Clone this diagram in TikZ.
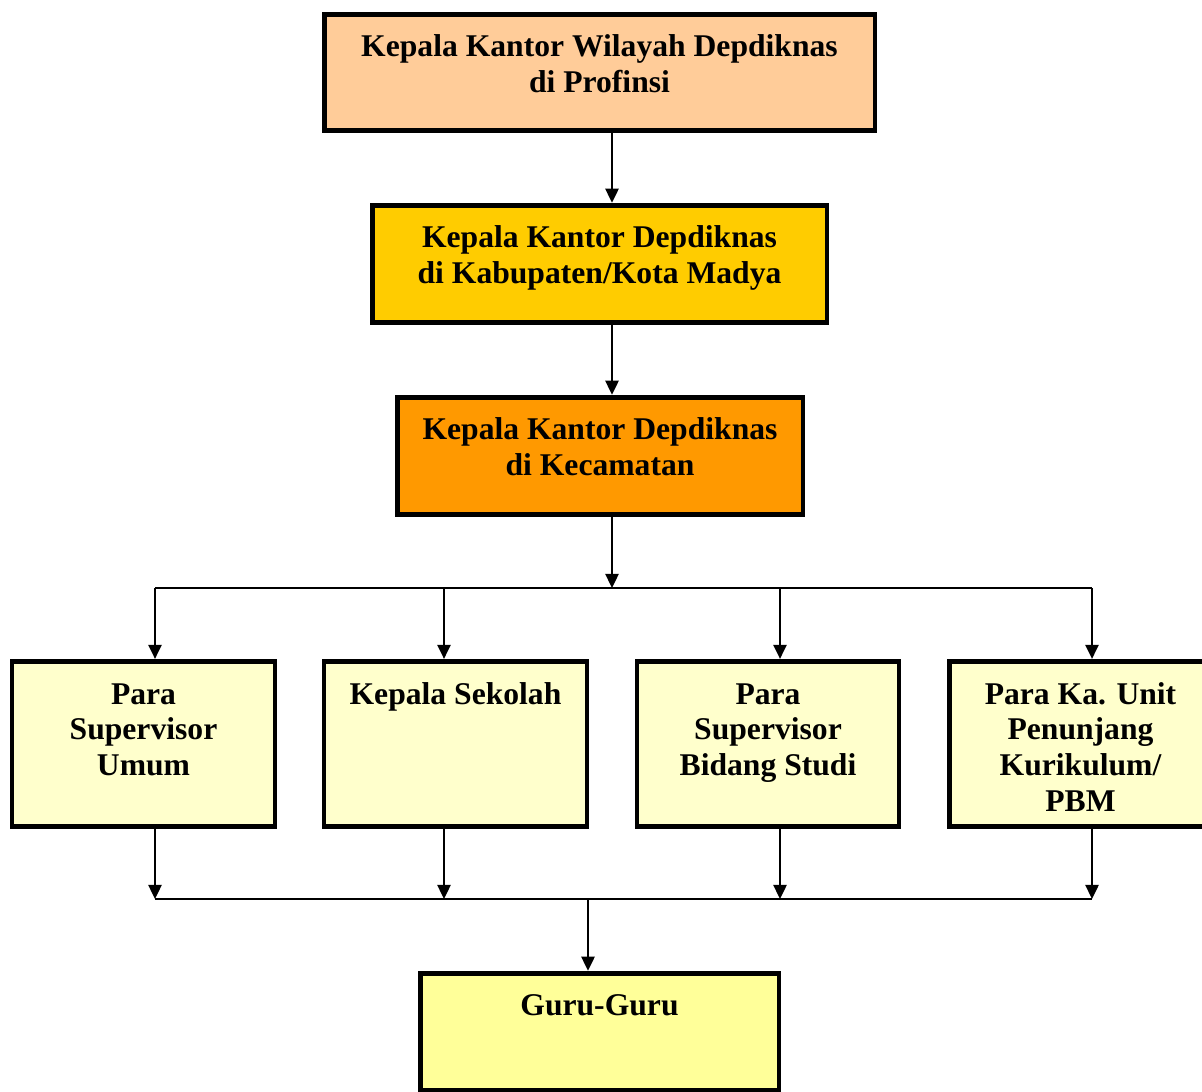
\documentclass[tikz,border=0pt]{standalone}
\usepackage{fontspec}
\setmainfont{Liberation Serif}
\usetikzlibrary{arrows.meta}

\definecolor{peach}{HTML}{FFCC99}
\definecolor{gold}{HTML}{FFCC00}
\definecolor{amber}{HTML}{FF9900}
\definecolor{pale}{HTML}{FFFFCC}
\definecolor{lemon}{HTML}{FFFF99}

% text held at the top of a box of height #1
\newcommand{\toptext}[2]{\vbox to #1{\kern10pt\hbox{\begin{tabular}{@{}c@{}}#2\end{tabular}}\vss}}

\begin{document}
\begin{tikzpicture}[x=0.02cm,y=-0.02cm]
        \tikzstyle{box}=[draw,line width=2.8pt,inner sep=0pt,fill=#1,font=\fontsize{18pt}{20.4pt}\selectfont\bfseries]
        \tikzstyle{arr}=[line width=1.1pt,-{Triangle[length=8pt,width=7.5pt]}]
        \tikzstyle{line}=[line width=1.1pt]
        \useasboundingbox (0,0) rectangle (1202,1091);

        \node[box=peach,minimum width=11.02cm] (kanwil) at (599.5,72.5)
            {\toptext{66.3pt}{Kepala Kantor Wilayah Depdiknas\\di Profinsi}};
        \node[box=gold,minimum width=9.1cm] (kandep) at (599.5,264)
            {\toptext{66.9pt}{Kepala Kantor Depdiknas\\di Kabupaten/Kota Madya}};
        \node[box=amber,minimum width=8.12cm] (kecamatan) at (600,456)
            {\toptext{66.9pt}{Kepala Kantor Depdiknas\\di Kecamatan}};

        \node[box=pale,minimum width=5.26cm] (umum) at (143.5,744)
            {\toptext{94.1pt}{Para\\Supervisor\\Umum}};
        \node[box=pale,minimum width=5.26cm] (sekolah) at (455.5,744)
            {\toptext{94.1pt}{Kepala Sekolah}};
        \node[box=pale,minimum width=5.24cm] (bidang) at (768,744)
            {\toptext{94.1pt}{Para\\Supervisor\\Bidang Studi}};
        \node[box=pale,minimum width=5.26cm] (unit) at (1080.5,744)
            {\toptext{94.1pt}{Para Ka. Unit\\Penunjang\\Kurikulum/\\PBM}};

        \node[box=lemon,minimum width=7.18cm] (guru) at (599.5,1032)
            {\toptext{66.9pt}{Guru-Guru}};

        % the spine down the middle
        \coordinate (spine) at (612,588);
        \coordinate (merge) at (588,899);
        \draw[arr] (kanwil.south -| spine) -- (kandep.north -| spine);
        \draw[arr] (kandep.south -| spine) -- (kecamatan.north -| spine);
        \draw[arr] (kecamatan.south -| spine) -- (spine);

        \foreach \n/\x in {umum/155,sekolah/444,bidang/780,unit/1092}{
            \coordinate (top-\n) at (\x,588);
            \coordinate (bot-\n) at (\x,899);
            \draw[arr] (top-\n) -- (top-\n |- \n.north);
            \draw[arr] (bot-\n |- \n.south) -- (bot-\n);
        }
        \draw[line] (top-umum) -- (top-unit);
        \draw[line] (bot-umum) -- (bot-unit);
        \draw[arr] (merge) -- (guru.north -| merge);
\end{tikzpicture}
\end{document}
